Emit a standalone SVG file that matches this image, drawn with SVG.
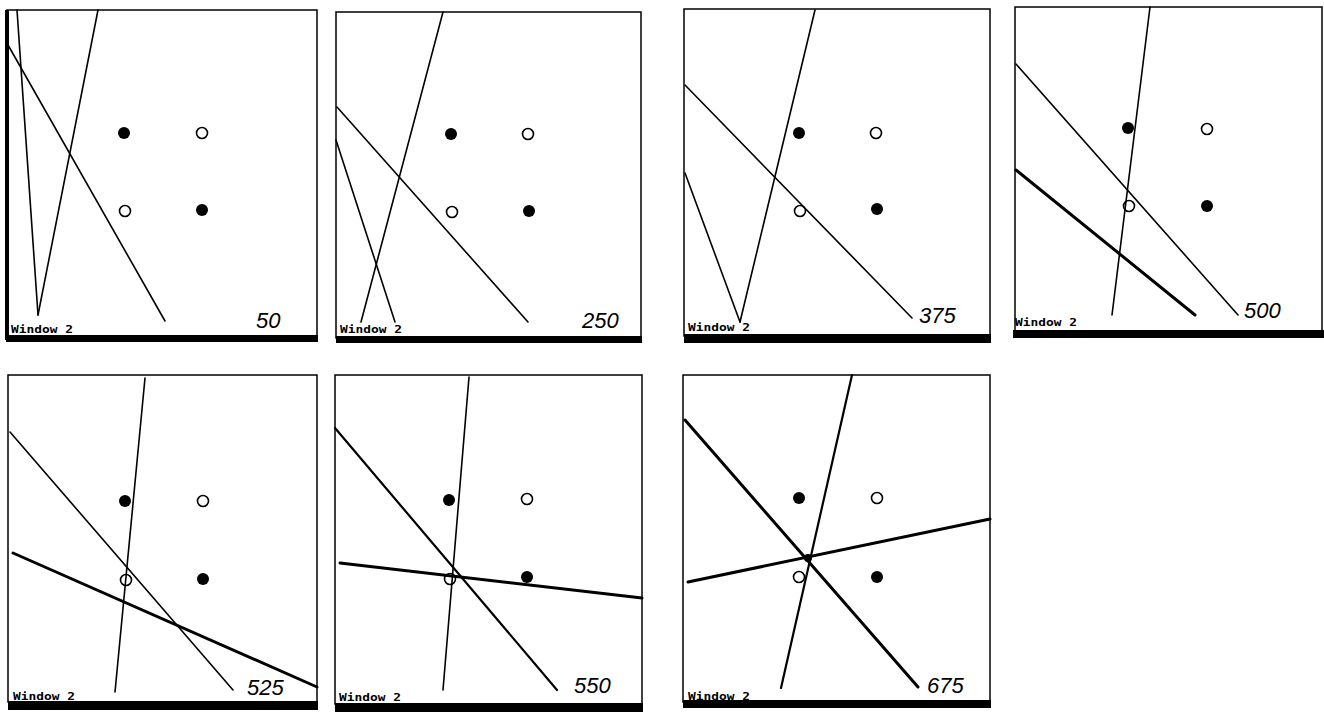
<svg xmlns="http://www.w3.org/2000/svg" width="1324" height="712" viewBox="0 0 1324 712">
<style>
.frame{fill:none;stroke:#000;stroke-width:1.5}
.bar{fill:#000}
.ln{fill:none;stroke:#000;stroke-width:1.6;stroke-linecap:round}
.lm{fill:none;stroke:#000;stroke-width:2.2;stroke-linecap:round}
.lt{fill:none;stroke:#000;stroke-width:3;stroke-linecap:round}
.f{fill:#000}
.o{fill:#fff;stroke:#000;stroke-width:1.6}
.win{font-family:"DejaVu Sans Mono","Liberation Mono",monospace;font-weight:bold;font-size:10px;fill:#000}
.num{font-family:"Liberation Sans","DejaVu Sans",sans-serif;font-style:italic;font-size:22px;fill:#000}
</style>
<rect width="1324" height="712" fill="#fff"/>

<g id="panel-50">
<rect class="frame" x="7" y="10" width="310" height="327"/>
<line x1="7" y1="10" x2="7" y2="340" stroke="#000" stroke-width="4"/>
<rect class="bar" x="6" y="335" width="312" height="7"/>
<circle class="f" cx="124" cy="133" r="6"/>
<circle class="o" cx="202" cy="133" r="5.5"/>
<circle class="o" cx="125" cy="211" r="5.5"/>
<circle class="f" cx="202" cy="210" r="6"/>
<text class="win" x="11" y="333" textLength="62" lengthAdjust="spacingAndGlyphs">Window 2</text>
<text class="num" x="256" y="328">50</text>
</g>

<g id="panel-250">
<rect class="frame" x="336" y="12" width="305" height="326"/>
<rect class="bar" x="336" y="336" width="306" height="7"/>
<circle class="f" cx="451" cy="134" r="6"/>
<circle class="o" cx="528" cy="134" r="5.5"/>
<circle class="o" cx="452" cy="212" r="5.5"/>
<circle class="f" cx="529" cy="211" r="6"/>
<text class="win" x="340" y="333" textLength="62" lengthAdjust="spacingAndGlyphs">Window 2</text>
<text class="num" x="582" y="328">250</text>
</g>

<g id="panel-375">
<rect class="frame" x="684" y="9" width="306" height="327"/>
<rect class="bar" x="684" y="334" width="307" height="9"/>
<circle class="f" cx="799" cy="133" r="6"/>
<circle class="o" cx="876" cy="133" r="5.5"/>
<circle class="o" cx="800" cy="211" r="5.5"/>
<circle class="f" cx="877" cy="209" r="6"/>
<text class="win" x="688" y="331" textLength="62" lengthAdjust="spacingAndGlyphs">Window 2</text>
<text class="num" x="919" y="323">375</text>
</g>

<g id="panel-500">
<rect class="frame" x="1015" y="7" width="307" height="325"/>
<rect class="bar" x="1013" y="330" width="311" height="8"/>
<circle class="f" cx="1128" cy="128" r="6"/>
<circle class="o" cx="1207" cy="129" r="5.5"/>
<circle class="o" cx="1129" cy="206" r="5.5"/>
<circle class="f" cx="1207" cy="206" r="6"/>
<text class="win" x="1015" y="326" textLength="62" lengthAdjust="spacingAndGlyphs">Window 2</text>
<text class="num" x="1244" y="318">500</text>
</g>

<g id="panel-525">
<rect class="frame" x="8" y="375" width="309" height="327"/>
<rect class="bar" x="8" y="701" width="310" height="9"/>
<circle class="f" cx="125" cy="501" r="6"/>
<circle class="o" cx="203" cy="501" r="5.5"/>
<circle class="o" cx="126" cy="580" r="5.5"/>
<circle class="f" cx="203" cy="579" r="6"/>
<text class="win" x="13" y="700" textLength="62" lengthAdjust="spacingAndGlyphs">Window 2</text>
<text class="num" x="247" y="695">525</text>
</g>

<g id="panel-550">
<rect class="frame" x="335" y="375" width="307" height="329"/>
<rect class="bar" x="335" y="703" width="308" height="9"/>
<circle class="f" cx="449" cy="500" r="6"/>
<circle class="o" cx="527" cy="499" r="5.5"/>
<circle class="o" cx="450" cy="579" r="5.5"/>
<circle class="f" cx="527" cy="577" r="6"/>
<text class="win" x="339" y="701" textLength="62" lengthAdjust="spacingAndGlyphs">Window 2</text>
<text class="num" x="574" y="693">550</text>
</g>

<g id="panel-675">
<rect class="frame" x="683" y="375" width="307" height="327"/>
<rect class="bar" x="683" y="700" width="308" height="8"/>
<circle class="f" cx="799" cy="498" r="6"/>
<circle class="o" cx="877" cy="498" r="5.5"/>
<circle class="o" cx="799" cy="577" r="5.5"/>
<circle class="f" cx="877" cy="577" r="6"/>
<text class="win" x="688" y="700" textLength="62" lengthAdjust="spacingAndGlyphs">Window 2</text>
<text class="num" x="927" y="693">675</text>
</g>

<g id="connectors">
<g id="lines-50">
<line class="ln" x1="17" y1="10" x2="38" y2="315"/>
<line class="ln" x1="98" y1="10" x2="38" y2="315"/>
<line class="ln" x1="8" y1="45" x2="165" y2="321"/>
</g>
<g id="lines-250">
<line class="ln" x1="336" y1="140" x2="395" y2="322"/>
<line class="ln" x1="443" y1="12" x2="361" y2="322"/>
<line class="ln" x1="337" y1="107" x2="528" y2="322"/>
</g>
<g id="lines-375">
<line class="ln" x1="685" y1="173" x2="740" y2="322"/>
<line class="ln" x1="815" y1="10" x2="740" y2="322"/>
<line class="ln" x1="685" y1="85" x2="912" y2="318"/>
</g>
<g id="lines-500">
<line class="ln" x1="1016" y1="64" x2="1238" y2="315"/>
<line class="lt" x1="1016" y1="170" x2="1195" y2="315"/>
<line class="ln" x1="1150" y1="7" x2="1112" y2="315"/>
</g>
<g id="lines-525">
<line class="ln" x1="145" y1="378" x2="115" y2="692"/>
<line class="ln" x1="10" y1="432" x2="233" y2="690"/>
<line class="lt" x1="13" y1="553" x2="317" y2="687"/>
</g>
<g id="lines-550">
<line class="ln" x1="469" y1="377" x2="443" y2="690"/>
<line class="lm" x1="335" y1="428" x2="557" y2="690"/>
<line class="lt" x1="340" y1="563" x2="642" y2="598"/>
</g>
<g id="lines-675">
<line class="lm" x1="852" y1="375" x2="781" y2="688"/>
<line class="lt" x1="685" y1="420" x2="918" y2="687"/>
<line class="lt" x1="688" y1="582" x2="990" y2="519"/>
<circle class="f" cx="808" cy="558" r="4"/>
</g>
</g>
</svg>
